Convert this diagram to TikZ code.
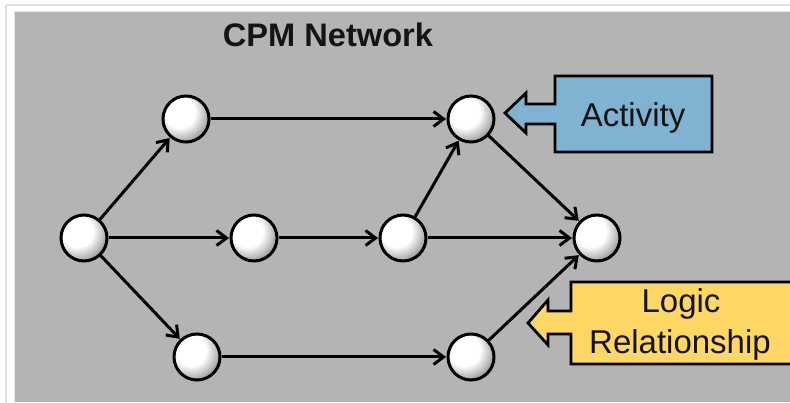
\documentclass[tikz,border=0pt]{standalone}
\usepackage{fontspec}
\setmainfont{Liberation Sans}
\usetikzlibrary{arrows.meta}
\definecolor{panel}{RGB}{180,180,180}
\definecolor{actblue}{RGB}{127,179,209}
\definecolor{logyel}{RGB}{255,215,102}
\definecolor{txt}{RGB}{20,20,20}
\definecolor{framec}{RGB}{225,225,225}
\tikzset{
  evt/.style={circle, draw=black, line width=3pt, minimum size=46pt, inner sep=0pt,
    path picture={
      \foreach \i in {0,...,24}{
        \pgfmathsetmacro\rr{35-\i*0.8}
        \pgfmathsetmacro\gg{48-\i*2}
        \fill[black!\gg] ([shift={(-6pt,6pt)}]path picture bounding box.center) circle[radius=\rr pt];
      }
    }},
  rel/.style={line width=3pt, -{Straight Barb[length=10pt,width=15pt,line width=3pt]}, shorten >=0.5pt},
  lbl/.style={text=txt, font=\fontsize{33}{40}\selectfont, inner sep=0pt, anchor=base},
  callout/.style={draw=black, line width=2.8pt, line join=miter}
}
\begin{document}
\begin{tikzpicture}[x=1pt,y=-1pt]
\useasboundingbox (0,0) rectangle (790,403);
\fill[white] (0,0) rectangle (790,403);
\draw[framec, line width=1.5pt] (6,5) -- (790,5);
\draw[framec, line width=1.5pt] (6,5) -- (6,403);
\fill[panel] (15,12) rectangle (790,402);
\draw[white!90!black, line width=1pt] (14.5,11.5) -- (790,11.5);
\draw[white!90!black, line width=1pt] (14.5,11.5) -- (14.5,403);

\node[text=txt, font=\bfseries\fontsize{32.6}{38}\selectfont, inner sep=0pt, anchor=base] (title) at (328,47) {CPM Network};

% events
\node[evt] (a) at (84,238) {};
\node[evt] (b) at (186,119) {};
\node[evt] (c) at (254,238) {};
\node[evt] (d) at (403,238) {};
\node[evt] (e) at (471,119) {};
\node[evt] (f) at (597,238) {};
\node[evt] (g) at (197,357) {};
\node[evt] (h) at (471,357) {};

% logic relationships
\draw[rel] (a) -- (b);
\draw[rel] (a) -- (c);
\draw[rel] (a) -- (g);
\draw[rel] (b) -- (e);
\draw[rel] (c) -- (d);
\draw[rel] (d) -- (e);
\draw[rel] (d) -- (f);
\draw[rel] (e) -- (f);
\draw[rel] (g) -- (h);
\draw[rel] (h) -- (f);

% Activity callout
\draw[callout, fill=actblue] (555,76) -- (712,76) -- (712,152) -- (555,152) -- (555,124) -- (526,124) -- (526,133) -- (505,113) -- (526,93) -- (526,104) -- (555,104) -- cycle;
\node[lbl] (act) at (633,127) {Activity};

% Logic Relationship callout
\fill[logyel] (790,282) -- (571,282) -- (571,311) -- (548,311) -- (548,300) -- (528,323) -- (548,345) -- (548,334) -- (571,334) -- (571,364) -- (790,364) -- cycle;
\draw[callout] (791,282) -- (571,282) -- (571,311) -- (548,311) -- (548,300) -- (528,323) -- (548,345) -- (548,334) -- (571,334) -- (571,364) -- (791,364);
\node[lbl] (logic) at (681,313) {Logic};
\node[lbl] (relship) at (680,354) {Relationship};
\end{tikzpicture}
\end{document}
